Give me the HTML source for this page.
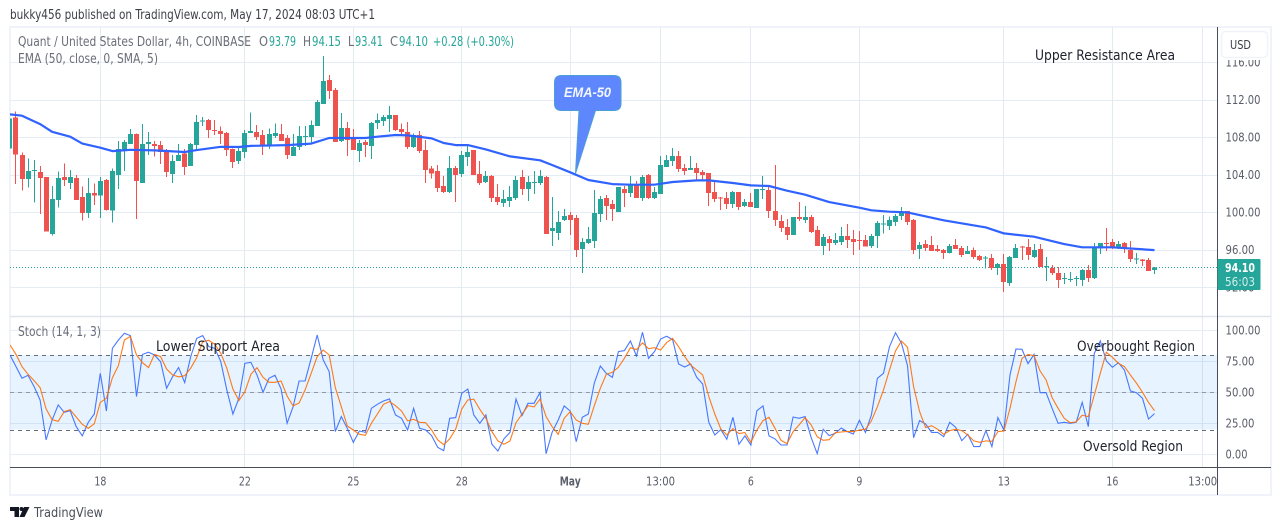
<!DOCTYPE html>
<html lang="en">
<head>
<meta charset="utf-8">
<title>Quant / United States Dollar 4h chart</title>
<style>
html,body{margin:0;padding:0;background:#fff;width:1281px;height:530px;overflow:hidden}
svg{display:block}
text{font-family:"DejaVu Sans","Liberation Sans",sans-serif}
</style>
</head>
<body>
<svg id="chart" xmlns="http://www.w3.org/2000/svg" width="1281" height="530" viewBox="0 0 1281 530">
  <defs>
    <clipPath id="mainClip"><rect x="10" y="27" width="1207" height="289"/></clipPath>
    <clipPath id="stochClip"><rect x="10" y="317" width="1207" height="150"/></clipPath>
  </defs>

  <text x="10" y="19" font-size="13" fill="#3c3f47" textLength="365" lengthAdjust="spacingAndGlyphs">bukky456 published on TradingView.com, May 17, 2024 08:03 UTC+1</text>

  <rect x="10" y="27" width="1261" height="468" fill="#fff" stroke="#f0f3fa" stroke-width="2"/>

  <g id="gridLayer"></g>
  <rect id="stochBand" x="10" width="1207" fill="#2196f3" fill-opacity="0.11"/>
  <g id="stochHLines" clip-path="url(#stochClip)"></g>
  <line id="lastPriceLine" x1="10" x2="1217" stroke="#26a69a" stroke-width="1" stroke-dasharray="1 2"/>
  <g id="candleLayer" clip-path="url(#mainClip)"></g>
  <g clip-path="url(#mainClip)"><polyline id="emaLine" fill="none" stroke="#2f62ff" stroke-width="2.2" stroke-linejoin="round"/></g>
  <g clip-path="url(#stochClip)">
    <polyline id="kLine" fill="none" stroke="#2962ff" stroke-opacity="0.85" stroke-width="1.1"/>
    <polyline id="dLine" fill="none" stroke="#ff6d00" stroke-opacity="0.9" stroke-width="1.1"/>
  </g>

  <line x1="10" x2="1271" y1="316.5" y2="316.5" stroke="#e0e3eb" stroke-width="1.5"/>
  <line x1="10" x2="1271" y1="467.5" y2="467.5" stroke="#4a4e58" stroke-width="1"/>
  <line x1="1217.5" x2="1217.5" y1="27" y2="495" stroke="#4a4e58" stroke-width="1"/>

  <g id="priceTickLayer"></g>
  <g id="stochTickLayer"></g>
  <g id="timeTickLayer"></g>

  <rect x="1219" y="28" width="51" height="32" fill="#fff"/>
  <rect x="1221.5" y="31.5" width="46" height="26" rx="4" fill="#fff" stroke="#f0f3fa" stroke-width="1.5"/>
  <text x="1230" y="49" font-size="12" fill="#3c3f47" textLength="21" lengthAdjust="spacingAndGlyphs">USD</text>

  <rect x="1217.5" y="259" width="43" height="31" fill="#26a69a" rx="1"/>
  <text x="1225" y="272" font-size="12.5" font-weight="bold" fill="#fff" textLength="30" lengthAdjust="spacingAndGlyphs">94.10</text>
  <text x="1225" y="286" font-size="12.5" fill="#d4eeeb" textLength="30" lengthAdjust="spacingAndGlyphs">56:03</text>

  <text x="18" y="46" font-size="13" fill="#6a6d78" textLength="233" lengthAdjust="spacingAndGlyphs">Quant / United States Dollar, 4h, COINBASE</text>
  <text x="259" y="46" font-size="13" fill="#6a6d78" textLength="9" lengthAdjust="spacingAndGlyphs">O</text>
  <text x="269" y="46" font-size="13" fill="#26a69a" textLength="27" lengthAdjust="spacingAndGlyphs">93.79</text>
  <text x="303" y="46" font-size="13" fill="#6a6d78" textLength="8" lengthAdjust="spacingAndGlyphs">H</text>
  <text x="312" y="46" font-size="13" fill="#26a69a" textLength="29" lengthAdjust="spacingAndGlyphs">94.15</text>
  <text x="348" y="46" font-size="13" fill="#6a6d78" textLength="6" lengthAdjust="spacingAndGlyphs">L</text>
  <text x="355" y="46" font-size="13" fill="#26a69a" textLength="28" lengthAdjust="spacingAndGlyphs">93.41</text>
  <text x="390" y="46" font-size="13" fill="#6a6d78" textLength="8" lengthAdjust="spacingAndGlyphs">C</text>
  <text x="399" y="46" font-size="13" fill="#26a69a" textLength="29" lengthAdjust="spacingAndGlyphs">94.10</text>
  <text x="433" y="46" font-size="13" fill="#26a69a" textLength="81" lengthAdjust="spacingAndGlyphs">+0.28 (+0.30%)</text>
  <text x="18" y="63" font-size="13" fill="#6a6d78" textLength="140" lengthAdjust="spacingAndGlyphs">EMA (50, close, 0, SMA, 5)</text>
  <text x="18" y="336" font-size="13" fill="#6a6d78" textLength="83" lengthAdjust="spacingAndGlyphs">Stoch (14, 1, 3)</text>

  <text x="1035" y="60" font-size="14" fill="#1e222d" textLength="140" lengthAdjust="spacingAndGlyphs">Upper Resistance Area</text>
  <text x="156" y="351" font-size="14" fill="#1e222d" textLength="124" lengthAdjust="spacingAndGlyphs">Lower Support Area</text>
  <text x="1077" y="351" font-size="14" fill="#1e222d" textLength="118" lengthAdjust="spacingAndGlyphs">Overbought Region</text>
  <text x="1083" y="451" font-size="14" fill="#1e222d" textLength="100" lengthAdjust="spacingAndGlyphs">Oversold Region</text>

  <path d="M561.5 75.5 H614 Q621 75.5 621 82.5 V103.5 Q621 110.5 614 110.5 H595.5 L575.5 173.5 L579 110.5 H561.5 Q554.5 110.5 554.5 103.5 V82.5 Q554.5 75.5 561.5 75.5 Z" fill="#5f87fd" stroke="#4aa0d6" stroke-width="1"/>
  <text x="564" y="97" font-size="14" font-weight="bold" font-style="italic" fill="#f4f7ff" textLength="47" lengthAdjust="spacingAndGlyphs" style="font-family:'Liberation Sans',sans-serif">EMA-50</text>

  <g>
    <path d="M10 507 H19 V517 H14.5 V511 H10 Z" fill="#131722"/>
    <circle cx="21.5" cy="509" r="2" fill="#131722"/>
    <path d="M24 507 H29.5 L24.5 517 H19.5 Z" fill="#131722"/>
  </g>
  <text x="34" y="517" font-size="13.5" fill="#4a4e58" textLength="69" lengthAdjust="spacingAndGlyphs">TradingView</text>
</svg>

<script>
const opens = [106.79,
110.06,106.08,103.51,104.37,104.26,103.73,97.65,101.27,103.73,103.12,
103.62,101.59,99.92,102.02,101.74,103.41,100.14,103.94,106.61,107.25,
108.32,103.12,107.25,107.25,107.14,106.50,104.05,105.43,106.22,104.90,
107.14,109.63,109.81,108.74,108.63,108.42,106.71,105.43,106.40,108.42,
108.53,108.21,107.14,108.10,108.32,107.89,105.97,106.93,108.00,108.00,
109.17,111.52,114.08,113.01,107.57,108.96,107.78,106.50,107.46,107.03,
109.49,109.70,109.92,110.34,108.85,108.53,106.93,108.21,106.61,
104.65,104.37,102.77,102.13,104.69,104.05,105.86,106.61,104.05,103.20,
103.84,101.60,100.96,101.17,101.49,103.73,102.45,103.09,103.09,103.73,
97.97,97.76,99.14,99.67,99.35,96.05,96.69,96.90,99.78,101.49,
100.85,99.99,102.45,102.02,102.98,101.49,103.94,101.49,101.91,104.80,
105.44,105.97,104.69,104.48,104.69,104.26,104.16,102.13,101.53,101.49,
100.85,102.13,100.64,101.06,100.42,102.38,102.34,100.10,99.03,98.39,
97.54,99.46,99.14,99.46,98.08,96.37,97.11,96.69,96.80,97.43,
97.11,97.01,97.01,96.37,97.44,98.65,98.50,98.93,99.57,100.10,
99.14,96.05,96.58,96.48,96.05,95.94,95.62,96.48,96.16,95.52,
95.94,95.30,95.06,95.09,94.02,94.45,92.42,95.09,96.30,96.26,
95.20,96.05,94.13,94.02,93.49,92.85,92.74,92.85,92.74,93.81,
92.96,96.09,96.69,96.80,96.26,96.69,95.94,94.95,94.91,94.88,
93.79];

const highs = [110.00,
110.70,106.33,105.72,105.54,104.90,103.73,102.77,104.30,105.19,104.48,
103.94,102.70,103.62,103.05,103.76,103.51,104.65,107.57,107.68,108.85,
108.39,109.38,108.56,107.57,107.57,106.71,106.08,107.25,106.71,107.36,
110.34,110.16,109.92,109.81,109.10,108.53,106.79,106.96,108.74,110.59,
109.28,108.74,108.92,109.45,109.38,108.21,108.32,109.17,109.17,109.74,
111.94,116.64,114.61,113.22,110.56,109.60,108.85,107.68,107.68,109.60,
110.52,110.34,111.30,110.34,109.45,109.60,108.39,108.63,107.68,
104.90,105.01,103.84,105.97,104.90,106.50,107.04,106.61,105.44,104.37,
103.94,102.98,102.34,102.77,103.84,104.48,103.84,104.37,104.48,103.84,
101.60,100.10,100.31,99.99,99.67,97.22,98.39,102.34,101.70,101.81,
101.28,102.66,102.77,103.84,103.30,103.94,104.05,102.66,105.97,106.08,
106.82,106.50,105.12,105.97,105.22,104.48,104.16,103.20,101.60,102.13,
102.24,102.13,101.38,102.02,102.45,103.84,102.70,105.01,99.67,99.25,
99.46,101.06,100.64,99.67,98.50,97.65,97.43,97.76,98.39,98.71,
98.08,97.97,97.54,97.65,99.04,99.68,99.50,99.78,100.53,100.10,
99.25,96.80,97.01,97.44,96.48,96.05,96.58,97.12,96.37,96.37,
96.23,95.41,95.30,95.52,94.56,95.52,95.30,96.58,96.37,97.12,
96.58,96.58,95.20,94.34,94.13,93.49,93.60,93.17,93.92,94.34,
96.69,96.69,98.29,97.12,96.90,96.80,96.90,95.62,94.98,95.09,
94.15];

const lows = [106.79,
102.98,102.27,102.62,100.99,99.78,97.90,97.47,100.46,102.77,102.45,
101.27,99.07,99.35,100.74,99.35,100.14,98.86,102.48,104.37,107.25,
99.25,103.12,106.08,105.90,105.12,103.73,103.09,105.43,103.94,104.90,
106.61,109.17,107.89,108.21,107.25,105.97,104.69,105.12,105.76,108.42,
107.68,106.08,106.71,107.89,107.57,105.65,105.97,106.61,107.03,107.25,
109.17,111.52,112.05,107.46,107.46,105.97,106.61,105.33,105.86,105.65,
108.85,109.17,108.53,108.63,108.10,106.71,106.82,106.29,103.09,
103.59,102.13,102.02,102.02,101.06,103.73,104.90,103.94,102.88,103.09,
101.06,100.74,100.53,100.53,101.28,101.81,101.17,101.91,102.88,97.65,
96.37,97.01,99.03,97.54,95.19,93.49,96.58,96.15,98.93,99.14,
99.03,99.99,100.53,101.60,101.49,101.17,101.38,101.38,101.91,104.80,
104.90,104.26,103.94,104.48,103.41,103.41,100.64,101.06,100.21,100.31,
100.42,100.21,100.53,100.53,100.42,101.38,99.35,98.50,97.86,97.01,
97.54,99.03,98.82,97.76,96.37,95.41,95.83,96.47,96.47,96.15,
95.41,95.94,96.30,96.16,96.16,97.72,98.08,98.50,99.14,98.61,
95.52,94.98,95.84,95.84,95.73,94.98,95.59,96.05,95.20,95.52,
94.98,94.77,93.99,93.81,93.28,91.46,92.10,95.09,94.88,94.88,
95.09,94.13,92.64,93.28,91.89,92.32,92.53,92.10,92.10,92.53,
92.85,95.52,95.84,96.05,96.05,95.62,94.66,94.45,94.24,93.70,
93.41];

const closes = [110.00,
106.11,103.51,104.37,104.48,103.62,97.90,101.38,103.62,103.41,103.73,
101.27,99.92,102.02,101.74,103.30,100.21,104.37,106.71,107.46,108.32,
103.30,107.25,107.46,107.03,106.40,104.26,105.43,106.08,104.79,107.25,
109.60,109.77,108.74,108.63,108.32,106.61,105.33,106.50,108.42,108.63,
108.00,107.14,108.32,108.42,107.57,106.08,106.93,108.10,108.10,109.28,
111.73,113.97,112.90,107.46,108.96,107.68,106.61,107.36,107.14,109.49,
109.81,110.13,110.34,108.74,108.53,106.93,108.21,106.50,104.48,
104.12,102.56,102.13,104.69,103.94,106.08,106.40,103.94,103.09,103.84,
101.49,101.06,101.38,101.60,103.41,102.45,103.20,103.20,103.84,97.65,
98.29,98.93,99.57,99.14,95.94,96.80,97.11,99.89,101.38,100.64,
100.31,102.66,102.02,102.88,101.49,103.73,101.49,102.13,105.01,105.54,
105.97,104.58,104.37,104.69,104.16,103.94,102.02,101.38,101.45,100.85,
102.13,100.53,101.06,100.53,102.45,102.45,100.10,99.14,98.29,97.54,
99.46,99.28,99.46,97.86,96.37,97.33,96.69,97.01,97.43,97.01,
96.80,96.90,96.30,97.44,98.82,98.75,99.14,99.57,100.00,98.93,
95.94,96.48,96.16,95.84,95.84,95.62,96.37,96.05,95.41,95.84,
95.20,94.88,95.13,94.02,94.45,92.53,95.20,96.16,96.19,95.41,
95.94,94.13,94.24,93.49,92.74,92.96,92.85,92.96,93.81,92.96,
96.26,96.69,96.58,96.16,96.58,96.05,94.98,95.02,94.80,93.70,
94.10];

const emaBars = [0,2,5,7,10,12,15,17,20,24,29,31,35,38,40,46,50,53,59,61,64,66,70,72,74,76,79,83,88,90,93,96,100,103,107,110,114,116,120,123,126,129,132,136,141,143,146,149,155,162,165,170,175,178,183,190];
const emaValues = [110.41,110.27,109.38,108.55,108.03,107.30,106.86,106.50,106.64,106.57,106.40,106.60,106.96,106.93,107.05,107.14,107.30,107.89,107.89,108.03,108.21,108.17,107.85,107.36,107.14,107.14,106.68,105.93,105.51,105.01,104.23,103.41,102.98,102.91,102.91,103.20,103.37,103.37,103.09,102.84,102.77,102.27,101.85,101.06,100.46,100.18,100.03,99.96,99.11,98.36,97.72,97.37,96.58,96.23,96.23,95.94];

const stochK = [80.1,70.7,61.3,63.7,54.6,43.8,11.6,27.7,39.8,33.9,
35.2,22.3,14.8,25.8,32.5,65.3,34.9,85.5,92.2,97.6,
95.7,46.5,80.6,82.3,80.1,74.7,53.2,62.6,69.9,57.8,
78.8,93.5,95.7,86.8,85.5,74.7,51.9,32.5,45.2,73.4,
74.2,64.0,50.0,61.3,63.7,52.7,25.0,38.4,59.1,59.1,
77.4,96.2,76.1,66.7,18.3,30.4,21.0,9.7,18.8,17.7,
37.1,40.3,43.0,44.6,31.7,29.0,19.6,37.1,21.0,19.6,15.1,
5.6,3.0,29.0,29.6,49.2,52.7,31.7,25.0,31.7,8.1,
2.7,12.4,17.7,44.6,31.2,41.1,41.1,50.0,0.5,17.7,
27.7,39.0,34.9,10.2,29.8,32.5,57.3,71.2,65.3,62.1,
82.8,83.6,91.4,79.3,98.4,77.4,82.8,93.0,95.2,92.5,
72.8,70.4,72.8,62.1,56.7,25.8,15.6,19.9,12.1,29.8,
8.1,14.8,7.5,35.2,39.0,14.8,12.4,7.5,7.5,30.1,
29.0,30.4,13.4,0.5,20.2,15.1,16.9,21.2,18.3,16.4,27.4,
17.7,31.7,61.3,65.3,86.8,98.1,89.5,71.5,13.4,27.2,
24.5,17.7,17.7,14.2,25.8,21.8,11.0,16.1,6.2,6.2,
19.1,6.2,29.6,19.6,64.0,84.9,84.7,73.1,80.6,49.7,
49.7,37.1,25.0,25.8,25.0,25.8,41.9,22.3,81.5,91.4,
75.3,70.2,73.9,68.0,51.1,49.7,45.2,28.5,32.8];

const stochD = [88.2,80.6,70.7,64.5,59.4,53.8,36.6,28.0,26.6,34.4,
36.0,30.1,24.2,21.0,24.7,41.9,45.2,61.8,71.5,92.2,
95.2,80.1,73.9,69.9,80.6,78.8,68.8,64.0,62.4,63.4,
69.4,78.0,90.9,91.9,88.7,81.5,69.4,52.7,43.3,50.5,
64.5,69.9,62.1,58.1,58.1,59.1,47.0,39.0,41.4,51.9,
65.3,78.8,84.1,80.1,53.8,38.4,22.8,19.6,16.1,15.3,
25.0,32.5,40.3,42.5,39.2,34.9,26.9,28.2,25.8,25.5,19.6,
11.6,7.8,12.4,20.4,36.6,43.8,44.4,36.3,29.0,18.3,
10.8,8.1,10.8,25.5,32.3,39.2,38.2,44.6,30.4,22.3,
16.1,29.0,34.4,27.7,25.0,24.2,39.2,53.2,64.5,66.1,
70.2,77.4,86.0,84.4,89.8,85.2,86.0,84.1,90.1,93.5,
86.8,78.8,72.0,68.0,64.0,46.5,32.5,20.4,15.6,20.7,
16.7,17.5,9.7,19.6,27.2,29.8,21.0,11.3,8.6,18.3,
23.7,29.6,23.7,14.2,11.3,11.8,17.5,18.0,18.5,18.3,19.6,
20.2,26.9,38.4,51.9,68.0,83.3,91.4,86.3,54.6,34.4,
21.5,23.1,20.2,16.1,19.1,20.2,19.1,15.6,10.8,9.7,
10.8,10.5,18.3,18.8,37.1,58.6,77.4,80.6,79.6,67.2,
59.9,45.7,37.1,29.0,25.5,26.1,31.5,30.4,47.8,65.3,
82.3,78.2,73.4,70.7,64.0,57.3,50.0,41.9,35.2];

const priceTicks = [116,112,108,104,100,96,92];
const priceTickLabels = ['116.00','112.00','108.00','104.00','100.00','96.00','92.00'];
const stochTicks = [100,75,50,25,0];
const stochTickLabels = ['100.00','75.00','50.00','25.00','0.00'];
const stochLevels = [80,50,20];
const timeBars = [15,39,57,75,93,108,123,141,165,183,198];
const timeLabels = ['18','22','25','28','May','13:00','6','9','13','16','13:00'];
const lastPrice = 94.10;

const NS = 'http://www.w3.org/2000/svg';
function xAt(bar){ return 100.33 + (bar - 15) * 6.024; }
function yPrice(p){ return 212 - (p - 100) * 9.375; }
function yStoch(v){ return 454.3 - v * 1.24; }
function tickWidth(label){ return label.length === 6 ? 35 : (label.length === 5 ? 29 : 22); }
function timeWidth(label){ return label === 'May' ? 21 : (label.length === 5 ? 29 : (label.length === 2 ? 12 : 6)); }
function mk(tag, parent, attrs){
  const el = document.createElementNS(NS, tag);
  for (const k in attrs) el.setAttribute(k, attrs[k]);
  parent.appendChild(el);
  return el;
}

const gridLayer = document.getElementById('gridLayer');
priceTicks.forEach(function(p){
  const y = Math.round(yPrice(p)) + 0.5;
  const el = mk('line', gridLayer, {x1:10, x2:1217, y1:y, y2:y, stroke:'#e6ecf3', 'stroke-width':1});
  
  
});
stochTicks.forEach(function(v){
  const y = Math.round(yStoch(v)) + 0.5;
  const el = mk('line', gridLayer, {x1:10, x2:1217, y1:y, y2:y, stroke:'#e6ecf3', 'stroke-width':1});
  
  
});
timeBars.forEach(function(b){
  const x = Math.floor(xAt(b)) + 0.5;
  const el = mk('line', gridLayer, {x1:x, x2:x, y1:27, y2:467, stroke:'#e2eaf2', 'stroke-width':1});
  
  
});

const band = document.getElementById('stochBand');
band.setAttribute('y', yStoch(stochLevels[0]));
band.setAttribute('height', yStoch(stochLevels[2]) - yStoch(stochLevels[0]));

const levelLayer = document.getElementById('stochHLines');
stochLevels.forEach(function(v, i){
  const y = Math.round(yStoch(v)) + 0.5;
  const el = mk('line', levelLayer, {x1:10, x2:1217, y1:y, y2:y, stroke: i === 1 ? '#9598a1' : '#696c77', 'stroke-width':1, 'stroke-dasharray':'4 4'});
  
  
});

const lp = document.getElementById('lastPriceLine');
lp.setAttribute('y1', Math.round(yPrice(lastPrice)) + 0.5);
lp.setAttribute('y2', Math.round(yPrice(lastPrice)) + 0.5);

const candleLayer = document.getElementById('candleLayer');
opens.forEach(function(o, i){
  const c = closes[i];
  const color = c >= o ? '#26a69a' : '#ef5350';
  const cx = Math.floor(xAt(i));
  const top = yPrice(Math.max(o, c));
  const bot = yPrice(Math.min(o, c));
  const wick = mk('rect', candleLayer, {x:cx, y:yPrice(highs[i]), width:1, height:yPrice(lows[i]) - yPrice(highs[i]), fill:color, 'shape-rendering':'crispEdges'});
  
  
  const body = mk('rect', candleLayer, {x:cx - 2, y:top, width:5, height:Math.max(bot - top, 1), fill:color, 'shape-rendering':'crispEdges'});
  
  
});

document.getElementById('emaLine').setAttribute('points', emaBars.map(function(b, i){
  return xAt(b).toFixed(1) + ',' + yPrice(emaValues[i]).toFixed(1);
}).join(' '));
document.getElementById('kLine').setAttribute('points', stochK.map(function(v, i){
  return xAt(i).toFixed(1) + ',' + yStoch(v).toFixed(1);
}).join(' '));
document.getElementById('dLine').setAttribute('points', stochD.map(function(v, i){
  return xAt(i).toFixed(1) + ',' + yStoch(v).toFixed(1);
}).join(' '));

const priceTickLayer = document.getElementById('priceTickLayer');
priceTicks.forEach(function(p, i){
  const label = priceTickLabels[i];
  const el = mk('text', priceTickLayer, {x:1225.5, y:yPrice(p) + 4.5, 'font-size':12.5, fill:'#5a5e69', textLength:tickWidth(label), lengthAdjust:'spacingAndGlyphs'});
  el.textContent = label;
  
  
});
const stochTickLayer = document.getElementById('stochTickLayer');
stochTicks.forEach(function(v, i){
  const label = stochTickLabels[i];
  const el = mk('text', stochTickLayer, {x:1225.5, y:yStoch(v) + 4, 'font-size':12.5, fill:'#5a5e69', textLength:tickWidth(label), lengthAdjust:'spacingAndGlyphs'});
  el.textContent = label;
  
  
});
const timeTickLayer = document.getElementById('timeTickLayer');
timeBars.forEach(function(b, i){
  const label = timeLabels[i];
  const w = timeWidth(label);
  const el = mk('text', timeTickLayer, {x:xAt(b) - w / 2, y:485.5, 'font-size':12.5, fill:'#5a5e69', textLength:w, lengthAdjust:'spacingAndGlyphs', 'font-weight': label === 'May' ? 'bold' : 'normal'});
  el.textContent = label;
  
  
});
</script>
</body>
</html>
